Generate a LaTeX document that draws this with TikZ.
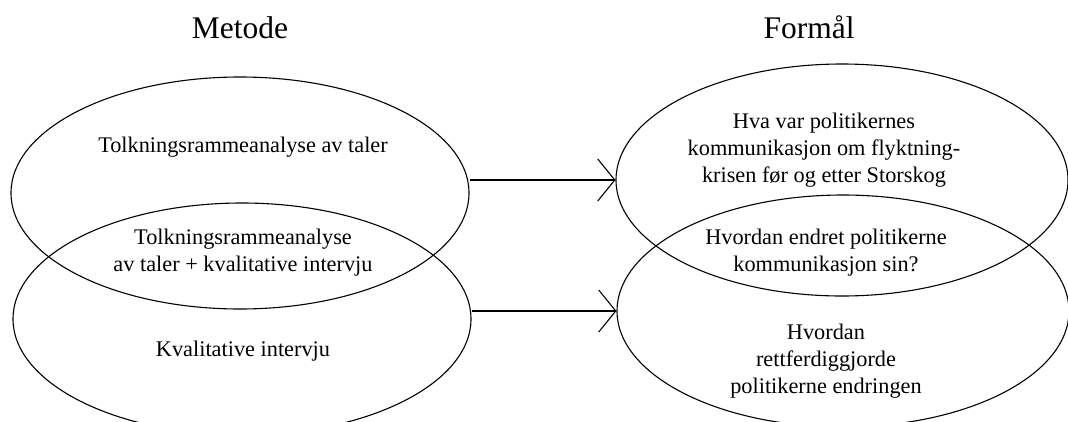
\documentclass[tikz,border=0pt]{standalone}
\usepackage{fontspec}
\setmainfont{Liberation Serif}
\usetikzlibrary{shapes.geometric,arrows.meta}
\begin{document}
\begin{tikzpicture}[x=1pt,y=-1pt,
  oval/.style={draw,ellipse,line width=1.1pt,minimum width=458pt,minimum height=232pt,inner sep=0pt},
  txt/.style={align=center,font=\fontsize{22.3}{27}\selectfont},
  ttl/.style={font=\fontsize{31.5}{34}\selectfont},
  arr/.style={line width=1.3pt,-{Straight Barb[length=17pt,width=42pt,line width=1.1pt]}}]
\useasboundingbox (0,0) rectangle (1068,421);
\node[oval] (tl) at (240,193) {};
\node[oval] (bl) at (242,319) {};
\node[oval,minimum width=452pt] (tr) at (842,180) {};
\node[oval,minimum width=452pt] (br) at (843,311) {};
\node[ttl,anchor=base] (m) at (240,38) {Metode};
\node[ttl,anchor=base] (f) at (809,38) {Formål};
\node[txt] (t1) at (243,147) {Tolkningsrammeanalyse av taler};
\node[txt] (t2) at (243,253) {Tolkningsrammeanalyse\\av taler + kvalitative intervju};
\node[txt] (t3) at (243,351) {Kvalitative intervju};
\node[txt] (r1) at (824,150) {Hva var politikernes\\kommunikasjon om flyktning-\\krisen før og etter Storskog};
\node[txt] (r2) at (826,253) {Hvordan endret politikerne\\kommunikasjon sin?};
\node[txt] (r3) at (826,361) {Hvordan\\rettferdiggjorde\\politikerne endringen};
\draw[arr] (tl.east |- tr.west) -- (tr.west);
\draw[arr] (bl.east |- br.west) -- (br.west);
\end{tikzpicture}
\end{document}
